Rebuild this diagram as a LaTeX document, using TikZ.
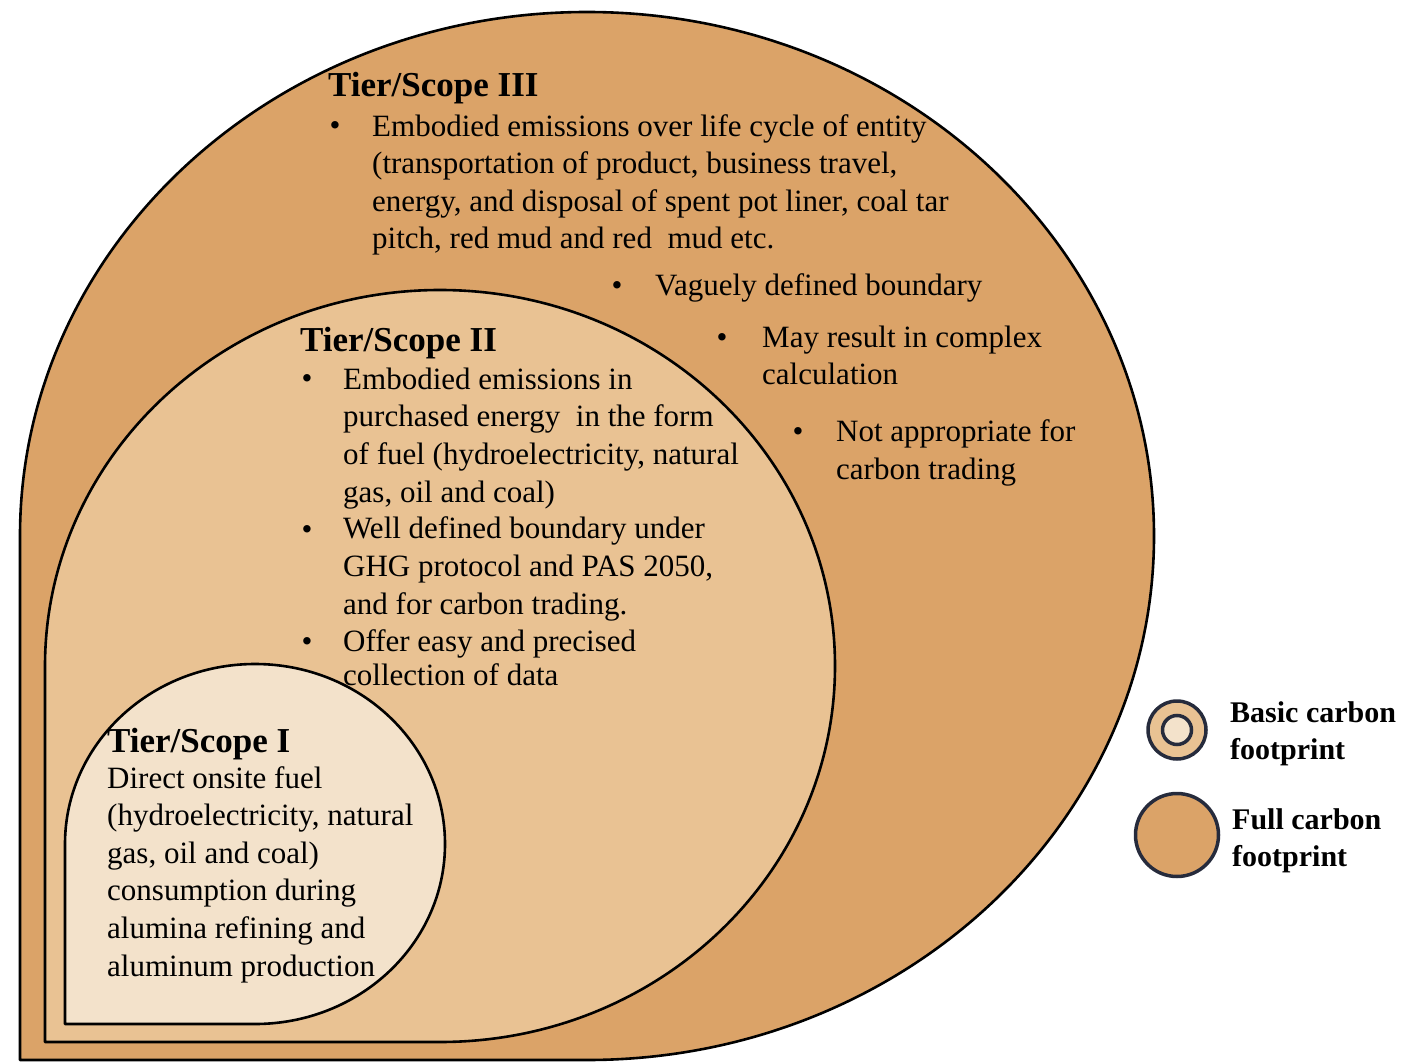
\documentclass[tikz,border=0pt]{standalone}
\usepackage{fontspec}
\setmainfont{Liberation Serif}
\usetikzlibrary{positioning}
\definecolor{fullfp}{RGB}{219,163,104}
\definecolor{midfp}{RGB}{233,194,147}
\definecolor{basicfp}{RGB}{243,226,203}
\definecolor{ringline}{RGB}{38,43,60}

\begin{document}
\begin{tikzpicture}[x=1pt, y=-1pt,
                tier/.style ={draw=black, line width=2.6pt, line join=round},
                head/.style ={anchor=base west, inner sep=0pt, font=\fontsize{35}{40}\selectfont\bfseries},
                body/.style ={anchor=base west, inner sep=0pt, align=left, font=\fontsize{31}{37.6}\selectfont},
                dot/.style ={anchor=base, inner sep=0pt, font=\fontsize{31}{37.6}\selectfont},
                key/.style ={circle, draw=ringline, line width=3.5pt, inner sep=0pt},
                keytext/.style ={anchor=base west, inner sep=0pt, align=left, font=\fontsize{30}{36.5}\selectfont\bfseries}]

            \useasboundingbox (0,0) rectangle (1411,1064);

            % the three scopes, square corner at bottom left
            \draw[tier, fill=fullfp] (20,1060) -- (20,536) arc[start angle=180, end angle=450, x radius=567, y radius=524] -- cycle;
            \draw[tier, fill=midfp] (45,1042) -- (45,666) arc[start angle=180, end angle=450, x radius=395, y radius=376] -- cycle;
            \draw[tier, fill=basicfp] (65,1024) -- (65,844) arc[start angle=180, end angle=450, x radius=190, y radius=180] -- cycle;

            % Tier III (multi-line texts sit on the baseline of their last line)
            \node[head] (t3head) at (328,97) {Tier/Scope III};
            \node[dot] (t3dota) at (335,136) {\textbullet};
            \node[body] (t3a) at (372,249) {Embodied emissions over life cycle of entity\\
                (transportation of product, business travel,\\
                energy, and disposal of spent pot liner, coal tar\\
                pitch, red mud and red\ \ mud etc.};
            \node[dot] (t3dotb) at (617,296) {\textbullet};
            \node[body] (t3b) at (655,296) {Vaguely defined boundary};
            \node[dot] (t3dotc) at (722,348) {\textbullet};
            \node[body] (t3c) at (762,385) {May result in complex\\calculation};
            \node[dot] (t3dotd) at (798,442) {\textbullet};
            \node[body] (t3d) at (836,479) {Not appropriate for\\carbon trading};

            % Tier II
            \node[head] (t2head) at (300,352) {Tier/Scope II};
            \node[dot] (t2dota) at (307,389) {\textbullet};
            \node[body] (t2a) at (343,502) {Embodied emissions in\\
                purchased energy\ \ in the form\\
                of fuel (hydroelectricity, natural\\
                gas, oil and coal)};
            \node[dot] (t2dotb) at (307,539) {\textbullet};
            \node[body] (t2b) at (343,614) {Well defined boundary under\\
                GHG protocol and PAS 2050,\\
                and for carbon trading.};
            \node[dot] (t2dotc) at (307,651) {\textbullet};
            \node[body] (t2c) at (343,685) {Offer easy and precised\\[-4pt]
                collection of data};

            % Tier I
            \node[head] (t1head) at (107,752) {Tier/Scope I};
            \node[body] (t1text) at (107,976) {Direct onsite fuel\\
                (hydroelectricity, natural\\
                gas, oil and coal)\\
                consumption during\\
                alumina refining and\\
                aluminum production};

            % key
            \node[key, fill=midfp, minimum size=58pt] (keybasic) at (1177,730) {};
            \node[key, fill=basicfp, minimum size=29pt] (keycore) at (keybasic.center) {};
            \node[key, fill=fullfp, minimum size=83pt] (keyfull) at (1177,835) {};
            \node[keytext] (lgbasic) at (1230,759) {Basic carbon\\footprint};
            \node[keytext] (lgfull) at (1232,866) {Full carbon\\footprint};
    \end{tikzpicture}
\end{document}
